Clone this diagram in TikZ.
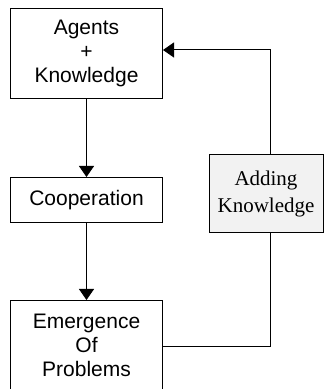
\documentclass[tikz,border=0pt]{standalone}
\usepackage{fontspec}
\setmainfont{Liberation Sans}
\newfontfamily\timesfont{Liberation Serif}
\usetikzlibrary{arrows.meta,calc}
\definecolor{boxgray}{RGB}{242,242,242}
\tikzset{
  sansbox/.style={draw=black,line width=1pt,inner sep=0pt,align=center,
    minimum width=152pt,font=\fontsize{21}{24}\selectfont},
  serifbox/.style={draw=black,line width=1pt,inner sep=0pt,align=center,fill=boxgray,
    minimum width=114pt,minimum height=78pt,font=\timesfont\fontsize{21}{27}\selectfont},
  conn/.style={draw=black,line width=1pt},
  arr/.style={conn,-{Triangle[length=11pt,width=15pt]}}
}
\begin{document}
\begin{tikzpicture}[x=1pt,y=1pt]
\useasboundingbox (0,0) rectangle (324,389);
\node[sansbox,minimum height=90pt] (a) at (86.5,335.5) {Agents\\+\\Knowledge};
\node[sansbox,minimum height=45pt] (c) at (86.5,189) {Cooperation};
\node[sansbox,minimum height=90pt] (e) at (86.5,43.5) {Emergence\\Of\\Problems};
\node[serifbox] (k) at (266,195.5) {Adding\\Knowledge};
\coordinate (tr) at (270,339);
\coordinate (br) at (270,42);
\draw[arr] (a) -- (c);
\draw[arr] (c) -- (e);
\draw[conn] (e.east |- br) -- (br) -- (k.south -| br);
\draw[arr] (k.north -| tr) -- (tr) -- (a.east |- tr);
\end{tikzpicture}
\end{document}
